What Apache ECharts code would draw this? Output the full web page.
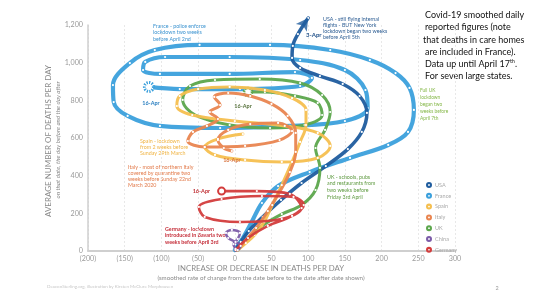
<!DOCTYPE html>
<html><head><meta charset="utf-8">
<script src="https://cdn.jsdelivr.net/npm/echarts@6/dist/echarts.min.js"></script>
<style>html,body{margin:0;padding:0;background:#fff}#c{width:540px;height:303px}</style>
</head><body><div id="c"></div>
<script>
// ---- data (rate of change per day, average deaths per day) ----
const countries = ['USA','France','Spain','Italy','UK','China','Germany'];
const xTicks = [-200,-150,-100,-50,0,50,100,150,200,250,300];
const yTicks = [0,200,400,600,800,1000,1200];
const usa = [[1,5],[8,48],[19,106],[38,181],[63,271],[91,361],[124,451],[154,541],[173,632],[180,733],[170,823],[147,887],[116,929],[89,972],[78,1025],[79,1089],[86,1152],[100,1237]];
const france = [[0,5],[11,69],[23,154],[37,255],[59,345],[102,419],[157,494],[209,563],[236,632],[244,749],[238,866],[219,945],[184,1014],[130,1067],[48,1094],[-48,1094],[-109,1067],[-143,998],[-166,881],[-165,791],[-146,717],[-102,664],[-20,653],[75,664],[150,690],[181,759],[178,855],[150,961],[89,1014],[-7,1030],[-95,1030],[-122,1004],[-125,961],[-102,940],[-7,940],[82,950],[105,919],[89,876],[7,860],[-75,860],[-117,871]];
const spain = [[4,5],[15,42],[27,85],[40,154],[51,244],[64,350],[78,473],[89,579],[97,669],[97,749],[78,812],[41,855],[-7,871],[-50,860],[-75,823],[-79,770],[-58,722],[0,690],[68,664],[113,627],[130,558],[113,494],[64,473],[14,483],[-27,510],[-41,552],[-23,595],[11,621]];
const italy = [[3,5],[14,53],[29,122],[45,212],[61,313],[75,419],[83,526],[83,627],[72,717],[50,781],[21,823],[-9,839],[-28,818],[-20,775],[-34,738],[-23,701],[-38,664],[-57,632],[-64,584],[-41,552],[14,558],[61,589],[78,637],[59,680],[21,674],[-9,643],[-23,589],[-15,547],[-4,531]];
const uk = [[4,5],[16,58],[37,133],[64,196],[91,244],[110,324],[116,441],[110,547],[123,643],[130,738],[119,828],[89,892],[34,913],[-27,908],[-61,876],[-71,802],[-54,722],[-7,669],[48,653],[95,669],[119,722],[113,786],[82,823],[41,844],[18,844]];
const china = [[4,5],[8,27],[1,48],[-9,69],[-12,96],[-4,112],[7,96],[4,64],[-2,37],[1,11]];
const germany = [[1,5],[18,69],[45,133],[78,186],[94,244],[80,287],[37,292],[-18,276],[-49,234],[-41,181],[7,154],[64,170],[91,228],[75,303],[30,318],[-18,318]];
const lastDate = '16-Apr';
const usaDateLabel = '3-Apr';

// ---- styles ----
const col = {USA:'#1f5c9e',France:'#3ba0dc',Spain:'#f5bf4f',Italy:'#e98550',UK:'#5ca64c',China:'#7b5ba8',Germany:'#d33c3c'};
const FF = 'Lato';
function line(name, data, width, endCfg, z) {
  const d = data.map((p, i) => {
    const item = {value: p};
    if (i === data.length - 1 && endCfg) Object.assign(item, endCfg);
    return item;
  });
  return {name, type:'line', data:d, smooth:0.35, clip:false, symbol:'circle', symbolSize:2.2,
    itemStyle:{color:'#fff'}, lineStyle:{color:col[name], width, cap:'round', join:'round', opacity:0.95},
    emphasis:{disabled:true}, silent:true, z:z||2, animation:false};
}
const endLbl = (color, pos, off) => ({show:true, formatter:lastDate, position:pos, offset:off||[0,0], color, fontSize:5.5, fontWeight:'bold', fontFamily:FF});

const usaSeries = line('USA', usa, 3.5, null, 3);
usaSeries.data[16].label = {show:true, formatter:usaDateLabel, position:'right', offset:[2,1], color:'#1f4f88', fontSize:6, fontWeight:'bold', fontFamily:FF};

const series = [
  line('France', france, 4.2, {symbol:'circle', symbolSize:9, itemStyle:{color:'#fff', borderColor:col.France, borderWidth:3, borderType:[1.3,1.3]}, label:endLbl('#2a7fc0','bottom',[2,2])}, 2),
  usaSeries,
  line('UK', uk, 3, {symbol:'circle', symbolSize:8, itemStyle:{color:'#fff', borderColor:col.UK, borderWidth:2.5, borderType:[1.5,1]}, label:endLbl('#55703a','bottom',[-5,1])}, 3),
  line('Spain', spain, 3, null, 4),
  line('Italy', italy, 3, {label:endLbl('#d9733e','bottom',[0,0])}, 4),
  line('China', china, 2.5, null, 5),
  line('Germany', germany, 2.6, {symbol:'circle', symbolSize:7, itemStyle:{color:'#fff', borderColor:col.Germany, borderWidth:2}, label:endLbl('#c02f34','left',[-2,0])}, 5),
  {name:'arrow', type:'scatter', data:[usa[usa.length-1]], symbol:'arrow', symbolSize:[10,12], symbolRotate:-35, clip:false,
    itemStyle:{color:col.USA}, silent:true, z:6, animation:false}
];

// ---- text helpers ----
function lines(x, y0, dy, arr, color, size, weight) {
  return arr.map((t, i) => ({type:'text', x, y:y0 + i*dy, silent:true,
    style:{text:t, fill:color, fontSize:size, fontFamily:FF, fontWeight:weight||'normal', textAlign:'left', textVerticalAlign:'middle'}}));
}
const ringIcon = 'path://M10,0A10,10,0,1,1,10,20A10,10,0,1,1,10,0Z M10,7A3,3,0,1,0,10,13A3,3,0,1,0,10,7Z';

const graphics = [].concat(
  [{type:'text', x:48, y:141, rotation:Math.PI/2, silent:true,
    style:{text:'AVERAGE NUMBER OF DEATHS PER DAY', fill:'#8a8a8a', fontSize:8, fontFamily:FF, textAlign:'center', textVerticalAlign:'middle'}},
   {type:'text', x:58, y:140, rotation:Math.PI/2, silent:true,
    style:{text:'on that date, the day before and the day after', fill:'#8a8a8a', fontSize:6.2, fontStyle:'italic', fontFamily:FF, textAlign:'center', textVerticalAlign:'middle'}},
   {type:'text', x:261, y:268, silent:true,
    style:{text:'INCREASE OR DECREASE IN DEATHS PER DAY', fill:'#8a8a8a', fontSize:7.8, fontFamily:FF, textAlign:'center', textVerticalAlign:'middle'}},
   {type:'text', x:261, y:278, silent:true,
    style:{text:'(smoothed rate of change from the date before to the date after date shown)', fill:'#8a8a8a', fontSize:6.2, fontFamily:FF, textAlign:'center', textVerticalAlign:'middle'}},
   {type:'text', x:47, y:287, silent:true,
    style:{text:'DeaconSterling.org, illustration by Kirsten McClure Morphousen', fill:'#c8c8c8', fontSize:4.5, fontFamily:FF, textAlign:'left', textVerticalAlign:'middle'}},
   {type:'text', x:497, y:288, silent:true,
    style:{text:'2', fill:'#999', fontSize:5.5, fontFamily:FF, textAlign:'center', textVerticalAlign:'middle'}},
   {type:'text', x:425, y:64, silent:true,
    style:{text:'Data up until April 17{s|th}.', fill:'#111', fontSize:9, fontFamily:FF, textAlign:'left', textVerticalAlign:'middle',
      rich:{s:{fontSize:5.5, fill:'#111', fontFamily:FF, verticalAlign:'top', padding:[0,0,5,0]}}}}
  ],
  lines(425, 15, 12.3, ['Covid-19 smoothed daily','reported figures (note'], '#111', 9),
  lines(423, 39.6, 12.3, ['that deaths in care homes'], '#111', 9),
  lines(425, 51.9, 12.3, ['are included in France).'], '#111', 9),
  lines(425, 76.3, 12.3, ['For seven large states.'], '#111', 9),
  lines(153, 26, 6.5, ['France - police enforce','lockdown two weeks','before April 2nd'], '#3b93d0', 5.3),
  lines(323, 19, 6.2, ['USA - still flying internal','flights - BUT New York','lockdown began two weeks','before April 5th'], '#2d5d93', 5.3),
  lines(140, 141, 6, ['Spain - lockdown','from 2 weeks before','Sunday 29th March'], '#f0b444', 5.3),
  lines(128, 167, 6, ['Italy - most of northern Italy','covered by quarantine two','weeks before Sunday 22nd','March 2020'], '#e27a4a', 5.3),
  lines(165, 229, 6.5, ['Germany - lockdown','introduced in Bavaria two','weeks before April 3rd'], '#c52f3a', 5.3, 'bold'),
  lines(327, 177, 6.7, ['UK - schools, pubs','and restaurants from','two weeks before','Friday 3rd April'], '#5e9a40', 5.3),
  lines(420, 90, 7, ['Full UK','lockdown','began two','weeks before','April 7th'], '#86b84a', 4.8)
);

const chart = echarts.init(document.getElementById('c'), null, {renderer:'canvas'});
chart.setOption({
  animation:false,
  backgroundColor:'#fff',
  grid:{left:88, right:85, top:25, bottom:52},
  xAxis:{type:'value', min:xTicks[0], max:xTicks[xTicks.length-1], interval:50,
    axisLine:{onZero:false, lineStyle:{color:'#cfcfcf', width:2}}, axisTick:{show:false},
    axisLabel:{margin:4, color:'#9a9a9a', fontSize:7.2, fontFamily:FF, formatter:v => v < 0 ? '(' + (-v) + ')' : String(v)},
    splitLine:{show:true, lineStyle:{color:'#e2e2e2', type:[2,2], width:0.8}}},
  yAxis:{type:'value', min:yTicks[0], max:yTicks[yTicks.length-1], interval:200,
    axisLine:{show:true, onZero:false, lineStyle:{color:'#cfcfcf', width:1.5}}, axisTick:{show:false},
    axisLabel:{margin:5, color:'#9a9a9a', fontSize:7.2, fontFamily:FF, formatter:v => v.toLocaleString('en-US')},
    splitLine:{show:false}},
  legend:{orient:'vertical', left:421, top:177, itemWidth:6, itemHeight:6, itemGap:4.8, icon:ringIcon,
    textStyle:{color:'#aaa', fontSize:5.5, fontFamily:FF, padding:[0,0,0,-2]},
    data:countries.map(n => ({name:n, icon:ringIcon, itemStyle:{color:col[n], borderWidth:0}})), selectedMode:false},
  series,
  graphic:{elements:graphics}
});
</script></body></html>
